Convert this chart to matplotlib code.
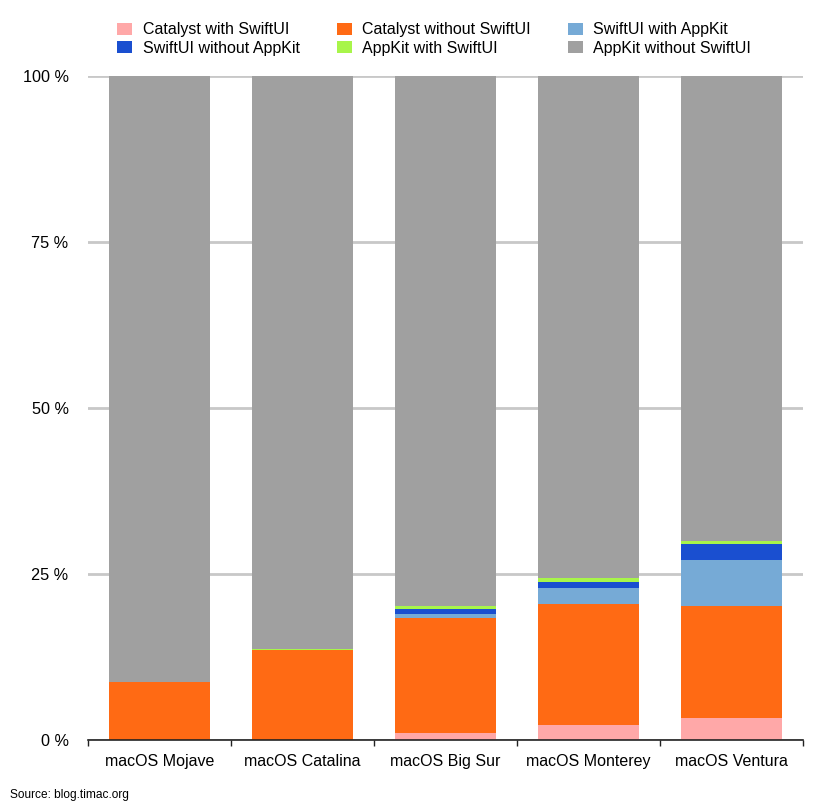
import matplotlib
matplotlib.use("Agg")
import matplotlib.pyplot as plt
import numpy as np
from matplotlib.patches import Patch

plt.rcParams['font.family'] = ['Liberation Sans', 'DejaVu Sans']

categories = ["macOS Mojave", "macOS Catalina", "macOS Big Sur", "macOS Monterey", "macOS Ventura"]
series_names = ["Catalyst with SwiftUI", "Catalyst without SwiftUI", "SwiftUI with AppKit",
                "SwiftUI without AppKit", "AppKit with SwiftUI", "AppKit without SwiftUI"]
catalyst_with = [0.0, 0.0, 1.0, 2.3, 3.3]
catalyst_without = [8.7, 13.5, 17.4, 18.2, 16.9]
swiftui_with_appkit = [0.0, 0.0, 0.6, 2.4, 6.85]
swiftui_without_appkit = [0.0, 0.0, 0.8, 0.9, 2.45]
appkit_with_swiftui = [0.0, 0.15, 0.45, 0.6, 0.45]
colors = ["#FFA8A8", "#FF6A14", "#76AAD6", "#1A4FD0", "#A8F54A", "#A0A0A0"]

lower = [catalyst_with, catalyst_without, swiftui_with_appkit, swiftui_without_appkit, appkit_with_swiftui]
appkit_without = list(100 - np.sum(np.array(lower), axis=0))
series = lower + [appkit_without]

fig = plt.figure(figsize=(8.4, 8.1), dpi=100)
ax = fig.add_axes([88/840, 70/810, 715/840, 664/810])

x = np.arange(len(categories))
bottom = np.zeros(len(categories))
handles = []
for name, vals, c in zip(series_names, series, colors):
    vals = np.array(vals, dtype=float)
    ax.bar(x, vals, bottom=bottom, width=0.713, color=c, edgecolor='none', zorder=3)
    bottom += vals
    handles.append(Patch(facecolor=c, edgecolor='none', label=name))

ax.set_xlim(-0.5, len(categories) - 0.5)
ax.set_ylim(0, 100)
ax.set_yticks([0, 25, 50, 75, 100])
ax.set_yticklabels(["0 %", "25 %", "50 %", "75 %", "100 %"], fontsize=11.7)
ax.tick_params(axis='y', length=0, pad=14)
ax.yaxis.grid(True, color='#C8C8C8', linewidth=2, zorder=0)
ax.set_axisbelow(True)

ax.set_xticks(x)
ax.set_xticklabels(categories, fontsize=11.5)
ax.tick_params(axis='x', which='major', length=0, pad=10)
ax.set_xticks(np.arange(-0.5, len(categories)), minor=True)
ax.tick_params(axis='x', which='minor', length=4, direction='out', color='#222222', width=1)

for s in ['top', 'right', 'left']:
    ax.spines[s].set_visible(False)
ax.spines['bottom'].set_color('#222222')
ax.spines['bottom'].set_linewidth(1.2)
ax.spines['bottom'].set_zorder(5)

order = [0, 3, 1, 4, 2, 5]
fig.legend([handles[i] for i in order], [series_names[i] for i in order],
           ncol=3, loc='upper left', bbox_to_anchor=(103/840, 1 - 8/810),
           frameon=False, fontsize=11.5, handlelength=0.94, handleheight=0.75,
           handletextpad=0.66, columnspacing=2.3, labelspacing=0.22)

fig.text(10/840, 1 - 795/810, "Source: blog.timac.org", fontsize=8.6, va='center', ha='left')

fig.savefig("out.png", dpi=100, facecolor='white')
